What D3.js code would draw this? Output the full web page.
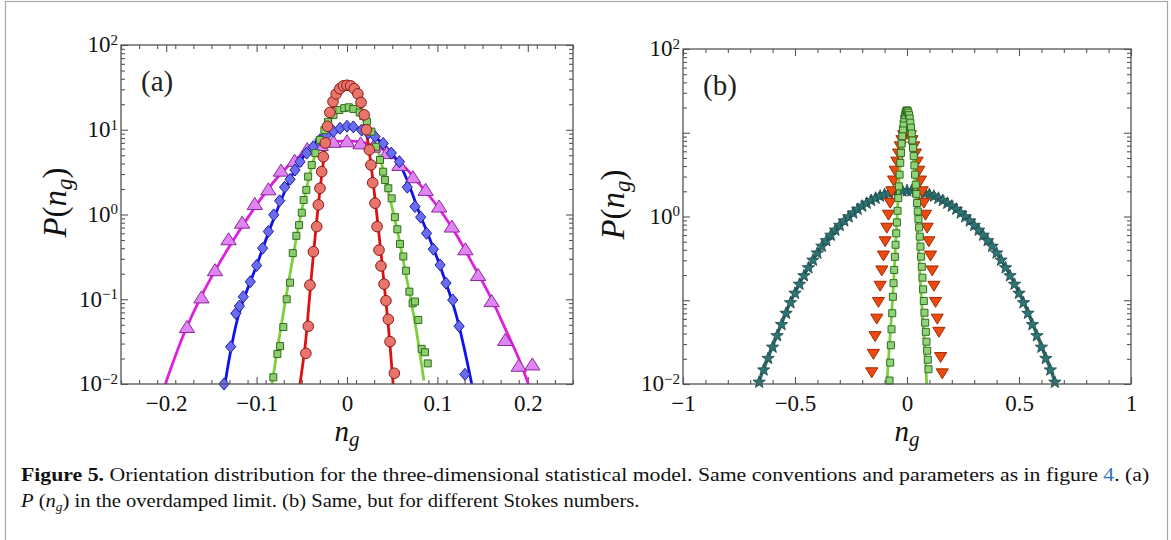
<!DOCTYPE html>
<html><head><meta charset="utf-8">
<script src="https://cdn.jsdelivr.net/npm/d3@7"></script>
<style>body{margin:0;background:#fff} svg{display:block}</style>
</head><body>
<svg id="fig" width="1171" height="540"></svg>
<script>
// ---------------- DATA ----------------
// Panel (a)
const redX = [-0.0455,-0.0428,-0.041,-0.0372,-0.0335,-0.0317,-0.0299,-0.028,-0.0262,-0.024,-0.0215,-0.019,-0.0155,-0.012,-0.008,-0.004,0,0.004,0.008,0.012,0.0155,0.019,0.0215,0.0247,0.0265,0.0284,0.031,0.0333,0.0354,0.0376,0.041,0.0431,0.0457,0.0476,0.0524];
const redY = [0.023,0.048,0.147,0.364,0.72,1.3,2.04,3.2,4.8,7.0,11,16,21.5,26.5,30.5,33,33.5,33,30.5,26.5,21,15,10,5.8,3.84,2.37,1.36,0.72,0.38,0.247,0.151,0.096,0.058,0.0316,0.0134];
const redLineX = [-0.052,-0.046,-0.042,-0.038,-0.034,-0.030,-0.026,-0.022,-0.018,-0.014,-0.010,-0.005,0,0.005,0.010,0.014,0.018,0.022,0.026,0.030,0.034,0.038,0.042,0.046,0.051];
const redLineY = [0.01,0.03,0.09,0.27,0.75,1.9,4.3,8.5,14,20,26,31,32.5,31,26,20,14,8.5,4.3,1.9,0.8,0.32,0.12,0.045,0.01];

const greenX = [-0.0815,-0.077,-0.074,-0.0704,-0.0667,-0.063,-0.060,-0.056,-0.053,-0.050,-0.048,-0.045,-0.043,-0.039,-0.035,-0.030,-0.025,-0.021,-0.015,-0.0085,-0.003,0.002,0.007,0.014,0.018,0.022,0.027,0.032,0.0365,0.040,0.042,0.0457,0.0494,0.053,0.0557,0.0586,0.0623,0.0653,0.069,0.0726,0.0752,0.0789,0.0826,0.0863,0.0893];
const greenY = [0.012,0.0226,0.028,0.047,0.10,0.157,0.35,0.56,0.75,1.05,1.48,1.95,2.8,3.84,5.3,7.6,9.9,12.4,14.9,17.1,18.0,18.4,17.6,16.0,14.5,12.5,9.5,6.3,4.4,3.2,2.55,2.04,1.55,0.93,0.67,0.45,0.32,0.217,0.123,0.0896,0.094,0.057,0.026,0.0237,0.0175];
const greenLineX = [-0.083,-0.075,-0.065,-0.055,-0.045,-0.035,-0.025,-0.015,-0.005,0,0.005,0.015,0.025,0.035,0.045,0.055,0.065,0.075,0.085];
const greenLineY = [0.01,0.035,0.15,0.6,2.0,5.2,10,14.5,17.5,17.8,17.5,15,10.5,5.3,2.0,0.7,0.2,0.055,0.011];

const blueX = [-0.136,-0.1287,-0.123,-0.119,-0.1147,-0.107,-0.100,-0.0933,-0.087,-0.081,-0.0745,-0.069,-0.063,-0.0575,-0.052,-0.0446,-0.0373,-0.030,-0.0225,-0.015,-0.0077,0,0.007,0.0162,0.0236,0.031,0.040,0.049,0.058,0.0667,0.0752,0.0815,0.088,0.0955,0.103,0.1095,0.117,0.124,0.1305];
const blueY = [0.010,0.0275,0.068,0.083,0.107,0.161,0.25,0.40,0.63,0.99,1.45,2.1,2.6,3.35,4.2,5.3,6.3,7.6,8.6,9.6,10.4,11.0,10.8,9.9,9.1,8.3,6.9,5.3,4.2,2.1,1.24,0.93,0.60,0.39,0.254,0.155,0.098,0.048,0.013];
const blueLineX = [-0.135,-0.12,-0.10,-0.08,-0.06,-0.04,-0.02,0,0.02,0.04,0.06,0.08,0.10,0.12,0.138];
const blueLineY = [0.01,0.065,0.25,0.95,3.0,6.2,9.4,10.9,9.5,6.8,3.6,1.05,0.30,0.07,0.01];

const magX = [-0.177,-0.161,-0.146,-0.131,-0.116,-0.102,-0.087,-0.073,-0.058,-0.044,-0.029,-0.015,0,0.015,0.029,0.044,0.058,0.073,0.087,0.102,0.116,0.131,0.145,0.160,0.175,0.190,0.205];
const magY = [0.047,0.105,0.22,0.51,0.80,1.33,1.98,3.29,4.3,5.9,6.6,7.2,7.3,6.9,6.3,5.3,3.84,2.75,1.95,1.24,0.72,0.388,0.193,0.095,0.033,0.0164,0.017];
const magLineX = [-0.201,-0.18,-0.16,-0.14,-0.12,-0.10,-0.08,-0.06,-0.04,-0.02,0,0.02,0.04,0.06,0.08,0.10,0.12,0.14,0.16,0.175,0.19,0.2007];
const magLineY = [0.01,0.04,0.115,0.28,0.62,1.3,2.5,4.2,5.9,7.0,7.4,7.0,5.8,4.0,2.3,1.25,0.6,0.25,0.10,0.045,0.02,0.01];

// Panel (b)
const starX = [-0.66,-0.64,-0.62,-0.60,-0.58,-0.56,-0.54,-0.52,-0.50,-0.48,-0.46,-0.44,-0.42,-0.40,-0.38,-0.36,-0.34,-0.32,-0.30,-0.28,-0.26,-0.24,-0.22,-0.20,-0.18,-0.16,-0.14,-0.12,-0.10,-0.08,-0.06,-0.04,-0.02,0,0.02,0.04,0.06,0.08,0.10,0.12,0.14,0.16,0.18,0.20,0.22,0.24,0.26,0.28,0.30,0.32,0.34,0.36,0.38,0.40,0.42,0.44,0.46,0.48,0.50,0.52,0.54,0.56,0.58,0.60,0.62,0.64,0.66];
const starY = [0.0105,0.0147,0.0202,0.0275,0.0377,0.0512,0.0698,0.0933,0.121,0.155,0.196,0.244,0.301,0.366,0.441,0.515,0.597,0.687,0.783,0.885,0.99,1.10,1.22,1.33,1.44,1.55,1.65,1.75,1.83,1.90,1.96,2.00,2.02,2.03,2.02,2.00,1.96,1.90,1.83,1.75,1.65,1.55,1.44,1.33,1.22,1.10,0.99,0.885,0.783,0.687,0.597,0.515,0.441,0.366,0.301,0.244,0.196,0.155,0.121,0.0933,0.0698,0.0512,0.0377,0.0275,0.0202,0.0147,0.0105];

const triX = [-0.1575,-0.15,-0.1425,-0.135,-0.1275,-0.12,-0.1125,-0.105,-0.0975,-0.09,-0.0825,-0.075,-0.0675,-0.06,-0.0525,-0.045,-0.0375,-0.03,-0.0225,-0.015,-0.0075,0,0.0075,0.015,0.0225,0.03,0.0375,0.045,0.0525,0.06,0.0675,0.075,0.0825,0.09,0.0975,0.105,0.1125,0.12,0.1275,0.135,0.1425,0.15,0.1575];
const triY = [0.0138,0.0229,0.0373,0.0603,0.0955,0.149,0.227,0.342,0.506,0.735,1.05,1.46,2.00,2.69,3.52,4.52,5.65,6.88,8.15,9.35,10.3,10.8,10.3,9.35,8.15,6.88,5.65,4.52,3.52,2.69,2.00,1.46,1.05,0.735,0.506,0.342,0.227,0.149,0.0955,0.0603,0.042,0.021,0.0134];

const sqBX = [-0.078,-0.075,-0.072,-0.069,-0.066,-0.063,-0.060,-0.057,-0.054,-0.051,-0.048,-0.045,-0.042,-0.039,-0.036,-0.033,-0.030,-0.027,-0.024,-0.021,-0.018,-0.015,-0.012,-0.009,-0.006,-0.003,0,0.003,0.006,0.009,0.012,0.015,0.018,0.021,0.024,0.027,0.030,0.033,0.036,0.039,0.042,0.045,0.048,0.051,0.054,0.057,0.060,0.063,0.066,0.069,0.072,0.075,0.078,0.081,0.084,0.087,0.090,0.093,0.096];
const sqBY = [0.011,0.018,0.029,0.045,0.07,0.11,0.16,0.23,0.33,0.46,0.63,0.85,1.17,1.66,2.29,3.16,4.37,5.75,7.4,9.1,11.0,12.9,14.8,16.2,17.4,18.2,18.5,18.2,17.4,16.2,14.8,13.2,11.5,9.8,8.1,6.6,5.25,4.07,3.16,2.4,1.86,1.45,1.15,0.93,0.74,0.575,0.437,0.331,0.251,0.186,0.135,0.098,0.071,0.054,0.042,0.032,0.025,0.0195,0.015];
const sqBLineX = [-0.09,-0.08,-0.07,-0.06,-0.05,-0.04,-0.03,-0.02,-0.01,0,0.01,0.02,0.03,0.04,0.05,0.06,0.07,0.08,0.088];
const sqBLineY = [0.01,0.025,0.06,0.16,0.5,1.6,4.5,10,16,19,16,10,4.5,1.6,0.5,0.16,0.06,0.025,0.01];

// Axis ticks / labels
const xTicksA = [-0.2,-0.1,0,0.1,0.2];
const xTicksB = [-1,-0.5,0,0.5,1];
const yDecades = [0.01,0.1,1,10,100];
const yLabelsA = [0.01,0.1,1,10,100];
const yLabelsB = [0.01,1,100];

// ---------------- DRAWING ----------------
const svg = d3.select('#fig');
svg.append('rect').attr('x',0).attr('y',0).attr('width',1171).attr('height',540).attr('fill','#fff');
svg.append('rect').attr('x',5.5).attr('y',1.5).attr('width',1162).attr('height',545)
  .attr('fill','none').attr('stroke','#a8a8a8').attr('stroke-width',1.2);

const FONT = '"Liberation Serif","Times New Roman",serif';

// custom marker shapes
const shapes = {
  circle: {draw(c, r){ c.moveTo(r,0); c.arc(0,0,r,0,2*Math.PI); }},
  square: {draw(c, s){ c.rect(-s/2,-s/2,s,s); }},
  diamond:{draw(c, s){ const w=s*0.85, h=s; c.moveTo(0,-h); c.lineTo(w,0); c.lineTo(0,h); c.lineTo(-w,0); c.closePath(); }},
  triUp:  {draw(c, s){ c.moveTo(0,-s*0.9); c.lineTo(s*1.05,s*0.75); c.lineTo(-s*1.05,s*0.75); c.closePath(); }},
  triDown:{draw(c, s){ c.moveTo(0,s*0.85); c.lineTo(s*0.95,-s*0.7); c.lineTo(-s*0.95,-s*0.7); c.closePath(); }},
  star:   {draw(c, s){ const R=s, r=s*0.42; for(let i=0;i<10;i++){ const a=-Math.PI/2+i*Math.PI/5; const rr=i%2?r:R; const px=rr*Math.cos(a), py=rr*Math.sin(a); if(i===0) c.moveTo(px,py); else c.lineTo(px,py);} c.closePath(); }}
};

function makePanel(o){
  const g = svg.append('g');
  const x = d3.scaleLinear().domain(o.xDomain).range([o.left,o.right]);
  const y = d3.scaleLog().domain([0.01,100]).range([o.bottom,o.top]);
  const clipId = 'clip'+o.name;
  svg.append('defs').append('clipPath').attr('id',clipId).append('rect')
    .attr('x',o.left).attr('y',o.top).attr('width',o.right-o.left).attr('height',o.bottom-o.top);

  const tickStyle = sel => { sel.select('.domain').remove(); sel.selectAll('line').attr('stroke','#555').attr('stroke-width',1.1); };
  const xMinor = d3.range(o.xDomain[0], o.xDomain[1]+1e-9, o.xMinorStep).map(v=>+v.toFixed(4)).filter(v=>!o.xTicks.some(t=>Math.abs(t-v)<1e-6));
  const yMinor = [];
  yDecades.slice(0,-1).forEach(d=>{ for(let k=2;k<=9;k++) yMinor.push(d*k); });

  g.append('g').attr('transform',`translate(0,${o.bottom})`)
    .call(d3.axisBottom(x).tickValues(o.xTicks).tickSizeInner(-7).tickSizeOuter(0).tickPadding(11)
      .tickFormat(v=> v===0 ? '0' : d3.format('')(v).replace('-','\u2212')))
    .call(tickStyle)
    .call(s=>s.selectAll('text').attr('font-family',FONT).attr('font-size',23).attr('fill','#111'));
  g.append('g').attr('transform',`translate(0,${o.bottom})`)
    .call(d3.axisBottom(x).tickValues(xMinor).tickSizeInner(-4).tickSizeOuter(0).tickFormat(''))
    .call(tickStyle);
  g.append('g').attr('transform',`translate(0,${o.top})`)
    .call(d3.axisTop(x).tickValues(o.xTicks).tickSizeInner(-7).tickSizeOuter(0).tickFormat(''))
    .call(tickStyle);
  g.append('g').attr('transform',`translate(0,${o.top})`)
    .call(d3.axisTop(x).tickValues(xMinor).tickSizeInner(-4).tickSizeOuter(0).tickFormat(''))
    .call(tickStyle);

  const expOf = v => Math.round(Math.log10(v));
  g.append('g').attr('transform',`translate(${o.left},0)`)
    .call(d3.axisLeft(y).tickValues(yDecades).tickSizeInner(-7).tickSizeOuter(0).tickPadding(3).tickFormat(''))
    .call(tickStyle)
    .call(s=>s.selectAll('.tick').each(function(d){
      if(!o.yLabels.includes(d)) return;
      const t = d3.select(this).select('text').text(null)
        .attr('font-family',FONT).attr('font-size',23).attr('fill','#111').attr('dy','0.3em');
      t.append('tspan').text('10');
      const e = expOf(d);
      t.append('tspan').attr('dy','-0.5em').attr('font-size',15).text(e<0 ? '\u2212'+(-e) : String(e));
    }));
  g.append('g').attr('transform',`translate(${o.left},0)`)
    .call(d3.axisLeft(y).tickValues(yMinor).tickSizeInner(-4).tickSizeOuter(0).tickFormat(''))
    .call(tickStyle);
  g.append('g').attr('transform',`translate(${o.right},0)`)
    .call(d3.axisRight(y).tickValues(yDecades).tickSizeInner(-7).tickSizeOuter(0).tickFormat(''))
    .call(tickStyle);
  g.append('g').attr('transform',`translate(${o.right},0)`)
    .call(d3.axisRight(y).tickValues(yMinor).tickSizeInner(-4).tickSizeOuter(0).tickFormat(''))
    .call(tickStyle);

  // series
  const line = d3.line().x(d=>x(d[0])).y(d=>y(d[1])).curve(d3.curveCatmullRom.alpha(0.5));
  const lineLayer = g.append('g').attr('clip-path',`url(#${clipId})`);
  o.series.forEach(s=>{
    if(s.lx && s.lineBeforeMarkers!==false){
      lineLayer.append('path').datum(d3.zip(s.lx,s.ly)).attr('d',line)
        .attr('fill','none').attr('stroke',s.lineColor).attr('stroke-width',s.lineWidth||2.8).attr('stroke-linejoin','round');
    }
  });
  o.series.forEach(s=>{
    if(s.lx && s.lineBeforeMarkers===false){
      g.append('path').attr('clip-path',`url(#${clipId})`).datum(d3.zip(s.lx,s.ly)).attr('d',line)
        .attr('fill','none').attr('stroke',s.lineColor).attr('stroke-width',s.lineWidth||2.8);
    }
    if(!s.mx) return;
    const sym = d3.symbol().type(shapes[s.shape]).size(s.size);
    g.append('g').selectAll('path').data(d3.zip(s.mx,s.my)).join('path')
      .attr('transform',d=>`translate(${x(d[0])},${y(d[1])})`)
      .attr('d',sym).attr('fill',s.fill).attr('stroke',s.stroke).attr('stroke-width',s.sw||1);
  });

  // frame
  g.append('rect').attr('x',o.left).attr('y',o.top).attr('width',o.right-o.left).attr('height',o.bottom-o.top)
    .attr('fill','none').attr('stroke','#555').attr('stroke-width',1.3);

  // panel label
  g.append('text').attr('x',o.left+20).attr('y',o.top+46).attr('font-family',FONT).attr('font-size',29).attr('fill','#222').text(o.name==='a'?'(a)':'(b)');

  // axis labels
  const xl = g.append('text').attr('x',(o.left+o.right)/2).attr('y',o.bottom+57).attr('text-anchor','middle')
    .attr('font-family',FONT).attr('font-size',29).attr('fill','#111');
  xl.append('tspan').attr('font-style','italic').text('n');
  xl.append('tspan').attr('font-style','italic').attr('font-size',21).attr('dy',5).text('g');

  const yl = g.append('text').attr('transform',`translate(${o.yLabelX},${(o.top+o.bottom)/2 - 12}) rotate(-90)`).attr('text-anchor','middle')
    .attr('font-family',FONT).attr('font-size',33).attr('fill','#111');
  yl.append('tspan').attr('font-style','italic').text('P');
  yl.append('tspan').text('(');
  yl.append('tspan').attr('font-style','italic').text('n');
  yl.append('tspan').attr('font-style','italic').attr('font-size',23).attr('dy',6).text('g');
  yl.append('tspan').attr('dy',-6).text(')');
}

makePanel({
  name:'a', left:121, right:573, top:45, bottom:384, xDomain:[-0.25,0.25], xTicks:xTicksA, xMinorStep:0.02,
  yLabels:yLabelsA, yLabelX:66,
  series:[
    {lx:magLineX, ly:magLineY, lineColor:'#e01ee0'},
    {lx:blueLineX, ly:blueLineY, lineColor:'#1010f0'},
    {lx:greenLineX, ly:greenLineY, lineColor:'#7dd03a'},
    {lx:redLineX, ly:redLineY, lineColor:'#e01010'},
    {mx:magX, my:magY, shape:'triUp', size:7.3, fill:'#df84f2', stroke:'#8a2a9a'},
    {mx:blueX, my:blueY, shape:'diamond', size:6, fill:'#6a6cf4', stroke:'#1e1e9a'},
    {mx:greenX, my:greenY, shape:'square', size:7, fill:'#8ccd6c', stroke:'#2e6e1e'},
    {mx:redX, my:redY, shape:'circle', size:5.3, fill:'#e8746c', stroke:'#8a1a14'}
  ]
});
makePanel({
  name:'b', left:683, right:1131, top:49, bottom:384, xDomain:[-1,1], xTicks:xTicksB, xMinorStep:0.1,
  yLabels:yLabelsB, yLabelX:624,
  series:[
    {lx:starX, ly:starY, lineColor:'#2a6666', lineWidth:2.5},
    {mx:starX, my:starY, shape:'star', size:6.5, fill:'#2e7474', stroke:'#1a4444', sw:0.8},
    {mx:triX, my:triY, shape:'triDown', size:6.4, fill:'#ee4a10', stroke:'#a02a00'},
    {lx:sqBLineX, ly:sqBLineY, lineColor:'#7dd03a', lineBeforeMarkers:false},
    {mx:sqBX, my:sqBY, shape:'square', size:7, fill:'#92d27a', stroke:'#2e6e1e'}
  ]
});

// ---------------- CAPTION ----------------
const cap1 = svg.append('text').attr('font-family',FONT).attr('font-size',18.5).attr('fill','#111');
cap1.append('tspan').attr('font-weight','bold').text('Figure 5.');
cap1.append('tspan').text(' Orientation distribution for the three-dimensional statistical model. Same conventions and parameters as in figure ');
cap1.append('tspan').attr('fill','#2f6fc0').text('4');
cap1.append('tspan').text('. (a)');
const cap2 = svg.append('text').attr('font-family',FONT).attr('font-size',18.5).attr('fill','#111');
cap2.append('tspan').attr('font-style','italic').text('P');
cap2.append('tspan').text(' (');
cap2.append('tspan').attr('font-style','italic').text('n');
cap2.append('tspan').attr('font-style','italic').attr('font-size',12).attr('dy',4).text('g');
cap2.append('tspan').attr('dy',-4).text(')');
cap2.append('tspan').text(' in the overdamped limit. (b) Same, but for different Stokes numbers.');
function fitLine(t, x0, yb, width){
  const w = t.node().getComputedTextLength();
  t.attr('transform',`translate(${x0},${yb}) scale(${width/w},1)`);
}
fitLine(cap1, 21, 481, 1129);
fitLine(cap2, 21, 507, 619);
</script>
</body></html>
